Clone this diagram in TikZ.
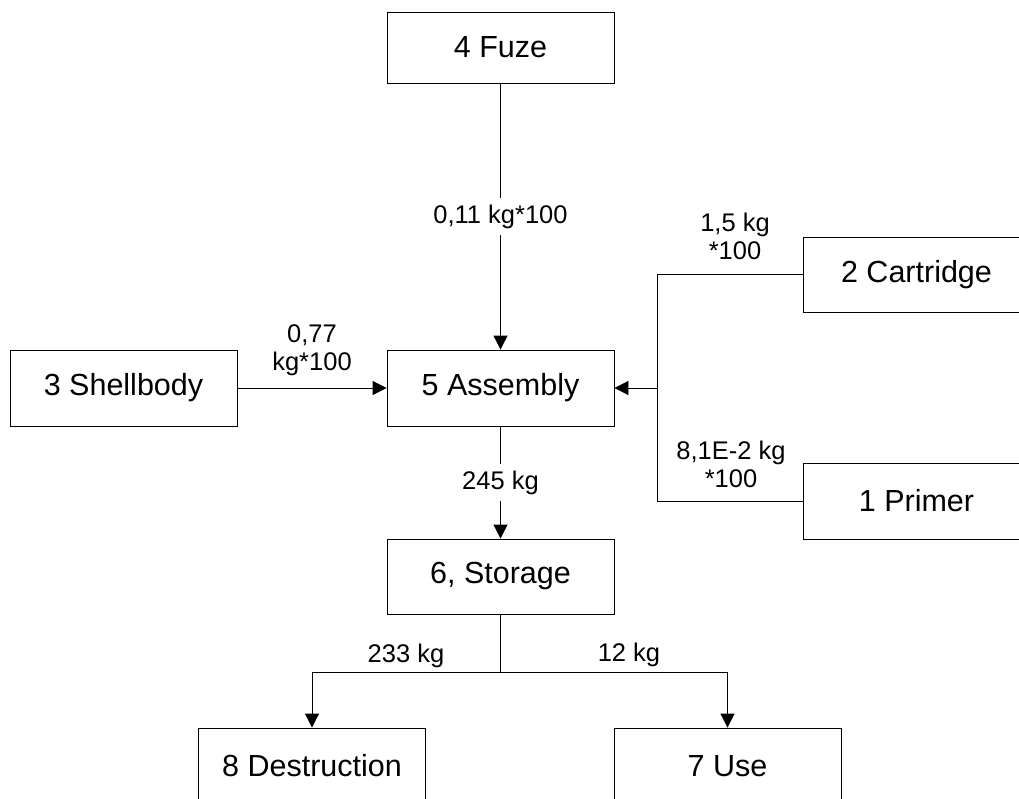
\documentclass[tikz,border=0pt]{standalone}
\usepackage{fontspec}
\setmainfont{Liberation Sans}
\usetikzlibrary{arrows.meta}
\begin{document}
\begin{tikzpicture}[x=1pt,y=-1pt,
  box/.style={draw, line width=0.8pt, minimum width=227pt, minimum height=76pt, inner sep=0pt, font=\fontsize{30.5}{36}\selectfont},
  conn/.style={draw, line width=0.8pt},
  flow/.style={conn, -{Triangle[length=14pt,width=14pt]}},
  lbl/.style={font=\fontsize{25.5}{28}\selectfont, align=center, inner sep=1pt},
  gap/.style={lbl, fill=white, inner ysep=7pt, inner xsep=2pt},
  ]
\useasboundingbox (0,0) rectangle (1019,798);
\node[box, minimum height=71pt] (fuze) at (500.5,47.5) {4 Fuze};
\node[box, minimum height=75pt] (cart) at (916.5,274.5) {2 Cartridge};
\node[box] (shell) at (123.5,388) {3 Shellbody};
\node[box] (asm) at (500.5,388) {5 Assembly};
\node[box] (primer) at (916.5,501) {1 Primer};
\node[box, minimum height=75pt] (stor) at (500.5,576.5) {6, Storage};
\node[box] (destr) at (312,766) {8 Destruction};
\node[box] (use) at (727.5,766) {7 Use};

\draw[flow] (fuze.south) -- node[gap] (l1) {0,11 kg*100} (asm.north);
\draw[flow] (shell.east) -- (asm.west);
\node[lbl] (l2) at (312,350) {0,77\\kg*100};

\coordinate (jn) at (657,388);
\draw[conn] (cart.west) -| (jn);
\draw[conn] (primer.west) -| (jn);
\draw[flow] (jn) -- (asm.east);
\node[lbl] (l3) at (735,236) {1,5 kg\\*100};
\node[lbl] (l4) at (731,464) {8,1E-2 kg\\*100};

\draw[flow] (asm.south) -- node[gap] (l5) {245 kg} (stor.north);

\coordinate (br) at (500.5,672);
\draw[conn] (stor.south) -- (br);
\draw[flow] (br) -| (destr.north);
\draw[flow] (br) -| (use.north);
\node[lbl] (l6) at (406,656) {233 kg};
\node[lbl] (l7) at (629,655) {12 kg};
\end{tikzpicture}
\end{document}
